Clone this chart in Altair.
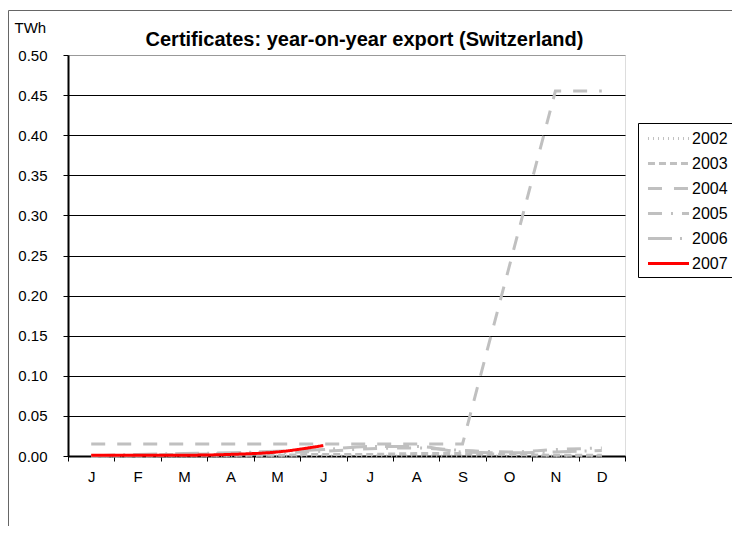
import altair as alt
import pandas as pd

months = ["Jan", "Feb", "Mar", "Apr", "May", "Jun", "Jul", "Aug", "Sep", "Oct", "Nov", "Dec"]
years = ["2002", "2003", "2004", "2005", "2006", "2007"]

s2002 = [0.000, 0.000, 0.000, 0.000, 0.000, 0.000, 0.000, 0.000, 0.000, 0.000, 0.000, 0.000]
s2003 = [0.000, 0.000, 0.001, 0.001, 0.001, 0.002, 0.002, 0.003, 0.003, 0.002, 0.001, 0.001]
s2004 = [0.015, 0.015, 0.015, 0.015, 0.015, 0.015, 0.015, 0.015, 0.015, 0.235, 0.455, 0.455]
s2005 = [0.000, 0.001, 0.002, 0.003, 0.004, 0.006, 0.009, 0.010, 0.007, 0.005, 0.008, 0.010]
s2006 = [0.000, 0.002, 0.003, 0.004, 0.006, 0.008, 0.012, 0.012, 0.005, 0.004, 0.005, 0.007]
s2007 = [0.001, 0.001, 0.001, 0.002, 0.005, 0.013]

y_ticks = [0.0, 0.05, 0.1, 0.15, 0.2, 0.25, 0.3, 0.35, 0.4, 0.45, 0.5]

series = {"2002": s2002, "2003": s2003, "2004": s2004, "2005": s2005, "2006": s2006, "2007": s2007}
rows = []
for yr, vals in series.items():
    for m, v in zip(months, vals):
        rows.append({"month": m, "value": v, "year": yr})
df = pd.DataFrame(rows)

gray = "#C0C0C0"
colors = [gray, gray, gray, gray, gray, "#FF0000"]
dashes = [[1, 4], [7, 4], [14, 12], [14, 9, 2, 9], [24, 8, 2, 8], [1, 0]]

FONT = "Liberation Sans"

leg = alt.Legend(
    title=None, orient="none", legendX=570, legendY=68,
    strokeColor="black", fillColor="white", padding=5,
    labelFontSize=16, labelFont=FONT, labelColor="black",
    symbolType="M-2.28,0L2.28,0", symbolSize=324, symbolStrokeWidth=3,
    rowPadding=6, labelOffset=13, symbolOffset=15, cornerRadius=0,
)

x_enc = alt.X(
    "month:O", sort=months, bandPosition=0.5,
    scale=alt.Scale(type="band", paddingInner=0, paddingOuter=0, domain=months),
    axis=alt.Axis(
        title=None, tickBand="extent", labelExpr="substring(datum.label,0,1)",
        domainColor="black", domainWidth=2, tickColor="black", tickSize=5,
        labelPadding=8, labelFontSize=15, labelFont=FONT, labelColor="black",
        grid=False, labelAngle=0,
    ),
)
y_enc = alt.Y(
    "value:Q",
    scale=alt.Scale(domain=[0, 0.5], nice=False, zero=True),
    axis=alt.Axis(
        values=y_ticks, format=".2f", title="TWh", titleAngle=0, titleAlign="left",
        titleBaseline="middle", titleX=-54, titleY=-28, titleFontWeight="normal",
        titleFontSize=15, titleFont=FONT, titleColor="black",
        labelFontSize=15, labelFont=FONT, labelColor="black", labelPadding=16,
        domainColor="black", domainWidth=2, tickColor="black", tickSize=5,
        grid=True,
        gridColor={"condition": {"test": "datum.value >= 0.5", "value": "#999999"}, "value": "black"},
        gridWidth=1,
    ),
)
color_enc = alt.Color("year:N", scale=alt.Scale(domain=years, range=colors), legend=leg)
dash_enc = alt.StrokeDash("year:N", scale=alt.Scale(domain=years, range=dashes), legend=leg)

base = alt.Chart(df).encode(x=x_enc, y=y_enc, color=color_enc, strokeDash=dash_enc)

others = base.transform_filter("datum.year != '2004'").mark_line(strokeWidth=3, interpolate="monotone")
y2004 = base.transform_filter("datum.year == '2004'").mark_line(strokeWidth=3)

frame = alt.Chart(alt.Data(values=[{"a": 1}])).mark_rect(
    fillOpacity=0, stroke="#666666", strokeWidth=1
).encode(x=alt.value(-59.5), x2=alt.value(720), y=alt.value(-44.5), y2=alt.value(520))

chart = alt.layer(frame, y2004, others).properties(
    width=557, height=401,
    autosize=alt.AutoSizeParams(type="none"),
    padding={"left": 60, "top": 47, "right": 107, "bottom": 70},
    title=alt.TitleParams(
        "Certificates: year-on-year export (Switzerland)", fontSize=20, font=FONT,
        fontWeight="bold", anchor="middle", frame="group", dx=18, dy=50, offset=0,
        baseline="middle", color="black",
    ),
).configure_view(stroke="#999999", strokeWidth=1).configure(background="white")

chart.save("out.html", embed_options={"renderer": "svg", "actions": False})
